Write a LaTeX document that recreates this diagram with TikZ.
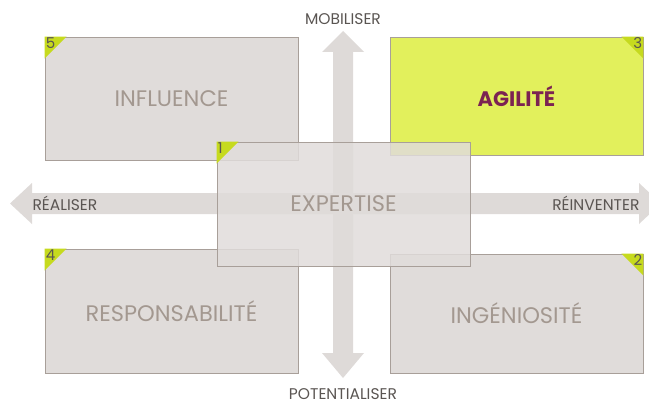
\documentclass[tikz,border=0pt]{standalone}
\usepackage{fontspec}
\setmainfont{Poppins}
\usepackage{xcolor}
\definecolor{cardfill}{HTML}{E0DCDA}
\definecolor{cardline}{HTML}{A89F99}
\definecolor{cardtext}{HTML}{A39890}
\definecolor{arrowfill}{HTML}{DEDAD8}
\definecolor{limefill}{HTML}{E2F05C}
\definecolor{limecorner}{HTML}{C6DA1E}
\definecolor{plum}{HTML}{7B2352}
\definecolor{axistext}{HTML}{5A5552}
\newcommand\axl[1]{\fontsize{15.5}{17}\selectfont\textcolor{axistext}{#1}}
\newcommand\num[1]{\fontsize{15}{16}\selectfont\textcolor{axistext}{#1}}

\begin{document}
\begin{tikzpicture}[x=1pt,y=-1pt,
  card/.style={draw=cardline, line width=0.8pt, fill=cardfill, minimum width=253pt, inner sep=0pt, text=cardtext, font=\fontsize{22.5}{24}\selectfont},
  corner/.style={fill=limecorner},
  numlbl/.style={inner sep=1pt}]
					\useasboundingbox (0,0) rectangle (649,404);
					\fill[arrowfill] (10,203.5) -- (32,183) -- (32,193) -- (639,193) -- (639,183) -- (661,203.5) -- (639,224) -- (639,214) -- (32,214) -- (32,224) -- cycle;
					\fill[arrowfill] (343,31) -- (364,52) -- (353,52) -- (353,353) -- (364,353) -- (343,378) -- (322,353) -- (333,353) -- (333,52) -- (322,52) -- cycle;

					\node (mob) at (343,19) {\axl{MOBILISER}};
					\node (pot) at (343,394) {\axl{POTENTIALISER}};
					\node[anchor=west] (rea) at (29,203.5) {\axl{RÉALISER}};
					\node[anchor=east] (rei) at (643,203.5) {\axl{RÉINVENTER}};

					\node[card, minimum height=123pt] (inf) at (171.5,98.5) {INFLUENCE};
					\node[card, minimum height=118pt, fill=limefill, text=plum, font=\fontsize{21}{23}\selectfont\bfseries] (agi) at (516.5,96) {AGILITÉ};
					\node[card, minimum height=124pt] (res) at (171.5,311) {RESPONSABILITÉ};
					\node[card, minimum height=119pt] (ing) at (516.5,313.5) {INGÉNIOSITÉ};
					\node[card, minimum height=124pt, fill opacity=0.85, text opacity=1] (exp) at (343.5,204) {EXPERTISE};

					\fill[corner] (inf.north west) -- ++(22,0) -- ++(-22,22) -- cycle;
					\fill[corner] (res.north west) -- ++(22,0) -- ++(-22,22) -- cycle;
					\fill[corner] (exp.north west) -- ++(22,0) -- ++(-22,22) -- cycle;
					\fill[corner] (agi.north east) -- ++(-22,0) -- ++(22,22) -- cycle;
					\fill[corner] (ing.north east) -- ++(-22,0) -- ++(22,22) -- cycle;

					\node[numlbl, anchor=north west] (n5) at (inf.north west) {\num{5}};
					\node[numlbl, anchor=north west] (n4) at (res.north west) {\num{4}};
					\node[numlbl, anchor=north west] (n1) at (exp.north west) {\num{1}};
					\node[numlbl, anchor=north east] (n3) at (agi.north east) {\num{3}};
					\node[numlbl, anchor=north east] (n2) at (ing.north east) {\num{2}};
				\end{tikzpicture}
\end{document}
